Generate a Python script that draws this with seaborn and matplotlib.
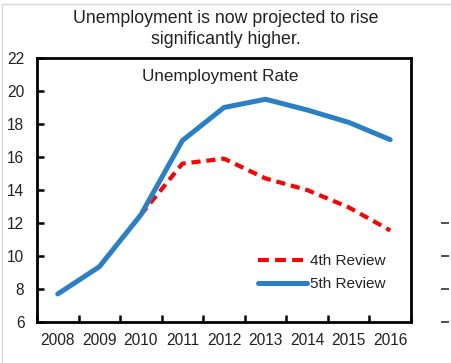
import pandas as pd
import numpy as np
import matplotlib
matplotlib.use('Agg')
import matplotlib.pyplot as plt
import seaborn as sns
from matplotlib.patches import Rectangle
from matplotlib.lines import Line2D

# data
years = ['2008', '2009', '2010', '2011', '2012', '2013', '2014', '2015', '2016']
review5 = [7.7, 9.35, 12.5, 17.0, 19.0, 19.5, 18.85, 18.1, 17.05]
review4_years = ['2010', '2011', '2012', '2013', '2014', '2015', '2016']
review4 = [12.5, 15.6, 15.9, 14.7, 14.0, 12.95, 11.55]
y_ticks = [6, 8, 10, 12, 14, 16, 18, 20, 22]

df = pd.concat([
    pd.DataFrame({'year': review4_years, 'rate': review4, 'series': '4th Review'}),
    pd.DataFrame({'year': years, 'rate': review5, 'series': '5th Review'}),
])
df['year'] = pd.Categorical(df['year'], categories=years, ordered=True)
df['x'] = df['year'].cat.codes

sns.set_style('white')
plt.rcParams['font.family'] = ['Liberation Sans', 'DejaVu Sans']
plt.rcParams['text.color'] = '#222222'
plt.rcParams['xtick.color'] = '#222222'
plt.rcParams['ytick.color'] = '#222222'

fig = plt.figure(figsize=(4.51, 3.63), dpi=100)
ax = fig.add_axes([37/451, 41/363, 374/451, 264/363])

palette = {'4th Review': '#ff0000', '5th Review': '#2a80c4'}
sns.lineplot(data=df, x='x', y='rate', hue='series', palette=palette,
             hue_order=['4th Review', '5th Review'], ax=ax, legend=False)
lines = ax.get_lines()
lines[0].set_linewidth(3.0)
lines[0].set_dashes((2.2, 1.4))
lines[0].set_zorder(2)
lines[1].set_linewidth(3.6)
lines[1].set_solid_capstyle('round')
lines[1].set_zorder(3)

ax.set_xlim(-0.5, 8.5)
ax.set_ylim(6, 22)
ax.set_xticks(range(len(years)))
ax.set_xticklabels(years)
ax.set_xticks(np.arange(-0.5, 9, 1), minor=True)
ax.tick_params(axis='x', which='major', bottom=True, length=0, labelsize=11.2, pad=8)
ax.tick_params(axis='x', which='minor', bottom=True, direction='in', length=5,
               width=1.8, color='black')
ax.set_yticks(y_ticks)
ax.tick_params(axis='y', left=True, direction='in', length=5, width=1.8,
               color='black', labelsize=11.2, pad=9)
ax.set_xlabel('')
ax.set_ylabel('')
for s in ax.spines.values():
    s.set_color('black')
    s.set_linewidth(2)

ax.text(0.49, 0.96, 'Unemployment Rate', transform=ax.transAxes,
        ha='center', va='top', fontsize=12.3)

handles = [Line2D([], [], color='#ff0000', lw=3.0, dashes=(2.6, 1.5)),
           Line2D([], [], color='#2a80c4', lw=3.6)]
ax.legend(handles, ['4th Review', '5th Review'], loc='lower right',
          bbox_to_anchor=(0.968, 0.065), frameon=False, fontsize=11,
          handlelength=3.2, handletextpad=0.2, labelspacing=0.6)

fig.text(0.5, 0.92, 'Unemployment is now projected to rise\nsignificantly higher.',
         ha='center', va='center', fontsize=12.8, linespacing=1.25)

# stray ticks at the right edge of the reference
ax2 = fig.add_axes([449/451, 41/363, 0.0005, 264/363])
ax2.set_ylim(6, 22)
ax2.set_yticks([6, 8, 10, 12])
ax2.set_yticklabels([])
ax2.set_xticks([])
for s in ax2.spines.values():
    s.set_visible(False)
ax2.tick_params(axis='y', left=True, direction='out', length=6, width=1.2, color='#333333')
ax2.patch.set_alpha(0)

fig.patches.append(Rectangle((2/451, -0.01), 452/451, 1.0, transform=fig.transFigure,
                             fill=False, edgecolor='#d8d8d8', lw=1))

fig.savefig('out.png', dpi=100)
